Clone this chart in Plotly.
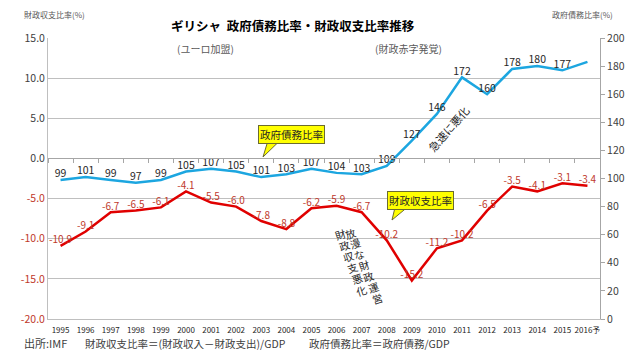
import plotly.graph_objects as go

years = ["1995", "1996", "1997", "1998", "1999", "2000", "2001", "2002", "2003", "2004", "2005",
         "2006", "2007", "2008", "2009", "2010", "2011", "2012", "2013", "2014", "2015", "2016予"]
debt = [99, 101, 99, 97, 99, 105, 107, 105, 101, 103, 107, 104, 103, 109, 127, 146, 172, 160, 178, 180, 177, 183]
debt_labels = ["99", "101", "99", "97", "99", "105", "107", "105", "101", "103", "107", "104", "103",
               "109", "127", "146", "172", "160", "178", "180", "177", ""]
balance = [-10.9, -9.1, -6.7, -6.5, -6.1, -4.1, -5.5, -6.0, -7.8, -8.8, -6.2, -5.9, -6.7,
           -10.2, -15.2, -11.2, -10.2, -6.5, -3.5, -4.1, -3.1, -3.4]
left_ticks = [15, 10, 5, 0, -5, -10, -15, -20]
right_ticks = [0, 20, 40, 60, 80, 100, 120, 140, 160, 180, 200]

FONT = "Noto Sans CJK JP"
BLUE = "#1CA6E0"
RED = "#E00000"
LABEL_RED = "#C0392B"

# The page body adds an 8px margin, so the figure is drawn 8px smaller and
# all positions below are given in reference-picture pixels.
OFF = 8
W, H = 640 - 2 * OFF, 360 - 2 * OFF
L, R, T, B = 48, 600, 38, 319   # plot area in reference pixels


def xp(px):
    return (px - L) / (R - L)


def yp(py):
    return (B - py) / (B - T)


fig = go.Figure()

fig.add_trace(go.Scatter(
    x=years, y=debt, yaxis="y2", mode="lines+text", text=debt_labels,
    textposition="top center", textfont=dict(size=10.5, color="#262626", family=FONT),
    line=dict(color=BLUE, width=2.5), showlegend=False, cliponaxis=False, hoverinfo="skip"))

fig.add_trace(go.Scatter(
    x=years, y=balance, mode="lines+text", text=[f"{v:.1f}" for v in balance],
    textposition="top center", textfont=dict(size=10, color=LABEL_RED, family=FONT),
    line=dict(color=RED, width=2.5), showlegend=False, cliponaxis=False, hoverinfo="skip"))

# invisible trace to activate xaxis2 (tick marks on the 0 line)
fig.add_trace(go.Scatter(x=years, y=[0] * len(years), xaxis="x2", mode="none",
                         showlegend=False, hoverinfo="skip"))

left_text = []
for v in left_ticks:
    s = f"{v:.1f}"
    left_text.append(f"<span style='color:{LABEL_RED}'>{s}</span>" if v < 0 else s)

shapes = []
for yr in ["2001", "2009"]:
    shapes.append(dict(type="line", xref="x", yref="y", x0=yr, x1=yr, y0=-18.2, y1=14.8,
                       line=dict(color="#9DC3E6", width=1.2), layer="below"))


def tri(bx0, bx1, by, tx, ty):
    return dict(type="path", xref="paper", yref="paper",
                path=f"M {xp(bx0)} {yp(by)} L {xp(tx)} {yp(ty)} L {xp(bx1)} {yp(by)} Z",
                fillcolor="#FFFF00", line=dict(color="#6b6b2f", width=1))


shapes.append(tri(268, 280, 140.5, 263, 157))
shapes.append(tri(395, 407, 207.5, 392, 220))

annotations = [
    dict(text="<b>ギリシャ  政府債務比率・財政収支比率推移</b>", x=xp(293), y=yp(25),
         font=dict(size=12.5, color="#000000", family=FONT)),
    dict(text="財政収支比率(%)", x=xp(54), y=yp(15), font=dict(size=8, color="#595959", family=FONT)),
    dict(text="政府債務比率(%)", x=xp(582), y=yp(15), font=dict(size=8, color="#595959", family=FONT)),
    dict(text="(ユーロ加盟)", x=xp(205), y=yp(48), font=dict(size=10, color="#595959", family=FONT)),
    dict(text="(財政赤字発覚)", x=xp(408), y=yp(48), font=dict(size=10, color="#595959", family=FONT)),
    dict(text="政府債務比率", x=xp(291.5), y=yp(134.5), bgcolor="#FFFF00", bordercolor="#6b6b2f",
         borderwidth=1, borderpad=1, font=dict(size=10.5, color="#262626", family=FONT)),
    dict(text="財政収支比率", x=xp(420), y=yp(200.5), bgcolor="#FFFF00", bordercolor="#6b6b2f",
         borderwidth=1, borderpad=1, font=dict(size=10.5, color="#262626", family=FONT)),
    dict(text="急速に悪化", x=xp(448), y=yp(129), textangle=-49,
         font=dict(size=11, color="#262626", family=FONT)),
    dict(text="出所:IMF", x=xp(22), y=yp(343), xanchor="left",
         font=dict(size=11, color="#404040", family=FONT)),
    dict(text="財政収支比率＝(財政収入－財政支出)/GDP", x=xp(83), y=yp(343), xanchor="left",
         font=dict(size=10.5, color="#404040", family=FONT)),
    dict(text="政府債務比率＝政府債務/GDP", x=xp(307), y=yp(343), xanchor="left",
         font=dict(size=10.5, color="#404040", family=FONT)),
]

# slanted vertical text columns (read right column first)
col_right = "放漫な財政運営"
col_left = "財政収支悪化"
for i, ch in enumerate(col_right):
    annotations.append(dict(text=ch, x=xp(350.5 + 4.5 * i), y=yp(233 + 10.9 * i), textangle=-18,
                            font=dict(size=10.5, color="#262626", family=FONT)))
for i, ch in enumerate(col_left):
    annotations.append(dict(text=ch, x=xp(340 + 4.3 * i), y=yp(234 + 11.2 * i), textangle=-18,
                            font=dict(size=10.5, color="#262626", family=FONT)))

for a in annotations:
    a.setdefault("xref", "paper")
    a.setdefault("yref", "paper")
    a.setdefault("xanchor", "center")
    a.setdefault("yanchor", "middle")
    a.setdefault("showarrow", False)

fig.update_layout(
    template="none",
    width=W, height=H,
    margin=dict(l=L - OFF, r=W - (R - OFF), t=T - OFF, b=H - (B - OFF), pad=0, autoexpand=False),
    paper_bgcolor="white", plot_bgcolor="white",
    font=dict(family=FONT, color="#404040"),
    xaxis=dict(type="category", categoryorder="array", categoryarray=years, automargin=False,
               range=[-0.5, len(years) - 0.5], showgrid=False, showline=True, zeroline=False,
               linecolor="#bfbfbf", ticks="", ticklabelstandoff=3,
               tickfont=dict(size=8, color="#262626")),
    xaxis2=dict(type="category", categoryorder="array", categoryarray=years, overlaying="x",
                anchor="free", position=20 / 35, range=[-0.5, len(years) - 0.5], automargin=False,
                showticklabels=False, showgrid=False, showline=True, zeroline=False,
                linecolor="#a6a6a6", ticks="outside", ticklen=4, tickcolor="#a6a6a6",
                tickson="boundaries"),
    yaxis=dict(range=[-20, 15], tickvals=left_ticks, ticktext=left_text, showgrid=True,
               gridcolor="#bfbfbf", gridwidth=1, zeroline=False, showline=True, automargin=False,
               linecolor="#bfbfbf", ticks="", tickfont=dict(size=10.5, color="#404040")),
    yaxis2=dict(range=[0, 200], tickvals=right_ticks, overlaying="y", side="right",
                showgrid=False, zeroline=False, showline=True, linecolor="#a6a6a6", automargin=False,
                ticks="outside", ticklen=4, tickcolor="#a6a6a6",
                tickfont=dict(size=10.5, color="#404040")),
    shapes=shapes, annotations=annotations,
)

fig.write_html("out.html")
